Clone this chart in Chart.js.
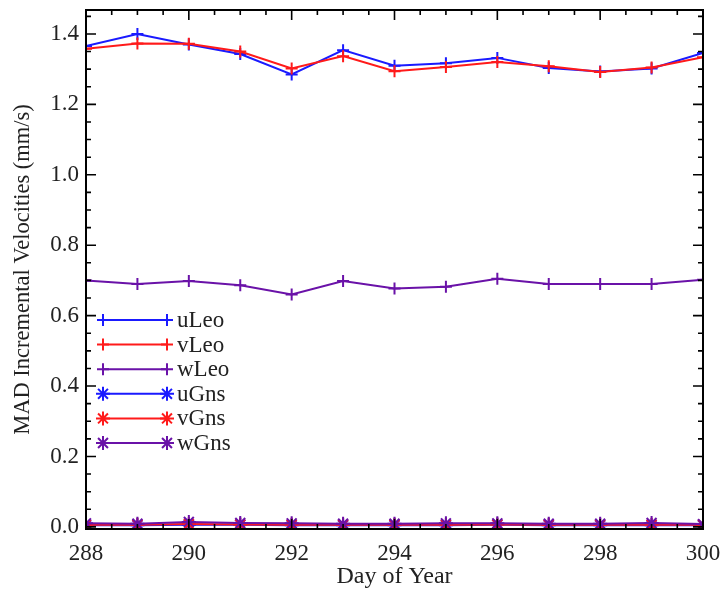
<!DOCTYPE html>
<html>
<head>
<meta charset="utf-8">
<script src="https://cdn.jsdelivr.net/npm/chart.js@4.4.1/dist/chart.umd.min.js"></script>
<style>
  html, body { margin: 0; padding: 0; background: #fff; }
  #wrap { width: 723px; height: 591px; }
</style>
</head>
<body>
<div id="wrap"><canvas id="chart"></canvas></div>
<script>
// Data
const days = [288, 289, 290, 291, 292, 293, 294, 295, 296, 297, 298, 299, 300];
const uLeo = [1.366, 1.400, 1.370, 1.343, 1.285, 1.354, 1.310, 1.317, 1.332, 1.303, 1.293, 1.302, 1.346];
const vLeo = [1.358, 1.373, 1.372, 1.350, 1.302, 1.337, 1.294, 1.306, 1.320, 1.308, 1.292, 1.305, 1.334];
const wLeo = [0.700, 0.690, 0.698, 0.686, 0.660, 0.698, 0.677, 0.682, 0.705, 0.690, 0.690, 0.690, 0.702];
const uGns = [0.005, 0.005, 0.006, 0.006, 0.005, 0.005, 0.005, 0.005, 0.006, 0.005, 0.005, 0.005, 0.005];
const vGns = [0.006, 0.006, 0.008, 0.007, 0.006, 0.006, 0.006, 0.006, 0.007, 0.006, 0.006, 0.006, 0.006];
const wGns = [0.010, 0.009, 0.014, 0.011, 0.010, 0.009, 0.009, 0.010, 0.010, 0.009, 0.009, 0.011, 0.008];

const xTicks = [288, 290, 292, 294, 296, 298, 300];
const yTicks = [0.0, 0.2, 0.4, 0.6, 0.8, 1.0, 1.2, 1.4];

const BLUE = '#1a1aff';
const RED = '#ff1a1a';
const PURPLE = '#6a12a8';
const FONT = '"Liberation Serif", "DejaVu Serif", serif';

const pairs = arr => arr.map((v, i) => ({ x: days[i], y: v }));

function series(label, data, color, style, order) {
  return {
    label: label,
    data: pairs(data),
    borderColor: color,
    backgroundColor: color,
    borderWidth: 2,
    pointStyle: style,
    pointRadius: style === 'star' ? 7 : 6,
    pointBorderWidth: 2,
    pointBorderColor: color,
    tension: 0,
    order: order
  };
}

const datasets = [
  series('uLeo', uLeo, BLUE, 'cross', 6),
  series('vLeo', vLeo, RED, 'cross', 5),
  series('wLeo', wLeo, PURPLE, 'cross', 4),
  series('uGns', uGns, BLUE, 'star', 3),
  series('vGns', vGns, RED, 'star', 2),
  series('wGns', wGns, PURPLE, 'star', 1)
];

// IDL-style box with inward ticks plus the in-plot legend
const framePlugin = {
  id: 'frame',
  afterDatasetsDraw(chart) {
    const ctx = chart.ctx;
    const a = chart.chartArea;
    const xs = chart.scales.x;
    const ys = chart.scales.y;
    ctx.save();
    ctx.strokeStyle = '#000';
    ctx.lineWidth = 2;
    ctx.strokeRect(a.left, a.top, a.right - a.left, a.bottom - a.top);

    ctx.lineWidth = 1.6;
    ctx.beginPath();
    for (let v = 288; v <= 300.001; v += 0.5) {
      const px = xs.getPixelForValue(v);
      const len = Math.abs(v % 2) < 1e-6 ? 10 : 5;
      ctx.moveTo(px, a.bottom); ctx.lineTo(px, a.bottom - len);
      ctx.moveTo(px, a.top); ctx.lineTo(px, a.top + len);
    }
    for (let k = 0; k <= 29; k++) {
      const v = k * 0.05;
      const py = ys.getPixelForValue(v);
      if (py < a.top) continue;
      const len = k % 4 === 0 ? 10 : 5;
      ctx.moveTo(a.left, py); ctx.lineTo(a.left + len, py);
      ctx.moveTo(a.right, py); ctx.lineTo(a.right - len, py);
    }
    ctx.stroke();

    // legend
    const x0 = a.left + 17, x1 = a.left + 81;
    ctx.font = '23px ' + FONT;
    ctx.textBaseline = 'middle';
    ctx.textAlign = 'left';
    chart.data.datasets.forEach((ds, i) => {
      const y = 320 + i * 24.6;
      ctx.strokeStyle = ds.borderColor;
      ctx.fillStyle = ds.borderColor;
      ctx.lineWidth = 2;
      ctx.beginPath();
      ctx.moveTo(x0, y); ctx.lineTo(x1, y);
      ctx.stroke();
      const opts = { pointStyle: ds.pointStyle, radius: ds.pointRadius, borderWidth: 2, rotation: 0 };
      Chart.helpers.drawPoint(ctx, opts, x0, y);
      Chart.helpers.drawPoint(ctx, opts, x1, y);
      ctx.fillStyle = '#222';
      ctx.fillText(ds.label, x1 + 10, y + 1);
    });
    ctx.restore();
  }
};

new Chart(document.getElementById('chart'), {
  type: 'line',
  data: { datasets: datasets },
  options: {
    responsive: true,
    maintainAspectRatio: false,
    animation: false,
    layout: { padding: { top: 10, right: 20, left: 0, bottom: 0 } },
    plugins: {
      legend: { display: false },
      tooltip: { enabled: false }
    },
    scales: {
      x: {
        type: 'linear',
        min: 288,
        max: 300,
        grid: { display: false, drawTicks: false },
        border: { display: false },
        afterBuildTicks: s => { s.ticks = xTicks.map(v => ({ value: v })); },
        afterFit: s => { s.height = 62; s.paddingLeft = 0; s.paddingRight = 0; },
        ticks: {
          padding: 11,
          maxRotation: 0,
          color: '#222',
          font: { family: FONT, size: 23 },
          callback: v => String(v)
        },
        title: {
          display: true,
          text: 'Day of Year',
          color: '#222',
          padding: { top: 0, bottom: 0 },
          font: { family: FONT, size: 24 }
        }
      },
      y: {
        type: 'linear',
        min: -0.006,
        max: 1.468,
        grid: { display: false, drawTicks: false },
        border: { display: false },
        afterBuildTicks: s => { s.ticks = yTicks.map(v => ({ value: v })); },
        afterFit: s => { s.width = 86; s.paddingTop = 0; s.paddingBottom = 0; },
        ticks: {
          padding: 7,
          color: '#222',
          font: { family: FONT, size: 23 },
          callback: v => Number(v).toFixed(1)
        },
        title: {
          display: true,
          text: 'MAD Incremental Velocities (mm/s)',
          color: '#222',
          padding: { top: 10, bottom: 0 },
          font: { family: FONT, size: 22.5 }
        }
      }
    }
  },
  plugins: [framePlugin]
});
</script>
</body>
</html>
